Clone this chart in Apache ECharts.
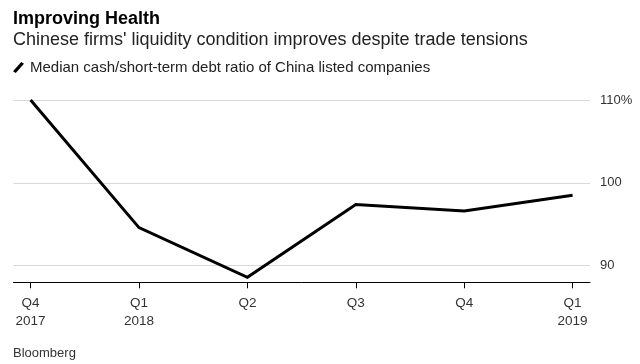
<!DOCTYPE html>
<html>
<head>
<meta charset="utf-8">
<script src="https://cdn.jsdelivr.net/npm/echarts@6/dist/echarts.min.js"></script>
<style>
html,body{margin:0;padding:0;background:#fff;}
#chart{width:640px;height:364px;}
</style>
</head>
<body>
<div id="chart"></div>
<script>
var titleText = 'Improving Health';
var subtitleText = "Chinese firms' liquidity condition improves despite trade tensions";
var seriesName = 'Median cash/short-term debt ratio of China listed companies';
var sourceText = 'Bloomberg';
var categories = ['Q4\n2017', 'Q1\n2018', 'Q2', 'Q3', 'Q4', 'Q1\n2019'];
var values = [110, 94.6, 88.6, 97.4, 96.6, 98.5];
var yTicks = [90, 100, 110];
var yMin = 88, yMax = 110;

var font = '"Liberation Sans", Arial, sans-serif';
var T = 'rgba(0,0,0,0)';
var chart = echarts.init(document.getElementById('chart'), null, {renderer: 'canvas'});
chart.setOption({
  animation: false,
  backgroundColor: '#fff',
  textStyle: {fontFamily: font},
  title: [
    {text: titleText, left: 13, top: 10, padding: 0,
     textStyle: {fontFamily: font, fontSize: 18, fontWeight: 'bold', color: '#000'}},
    {text: subtitleText, left: 13, top: 31, padding: 0,
     textStyle: {fontFamily: font, fontSize: 18, fontWeight: 'normal', color: '#222'}},
    {text: sourceText, left: 13, top: 347, padding: 0,
     textStyle: {fontFamily: font, fontSize: 13, fontWeight: 'normal', color: '#333'}}
  ],
  legend: {
    left: 13, top: 60, padding: 0, itemGap: 10,
    itemWidth: 11, itemHeight: 11,
    data: [{name: seriesName, icon: 'path://M9,0 L12,2 L3,12 L0,10 Z'}],
    textStyle: {fontFamily: font, fontSize: 15, color: '#222', padding: [0,0,0,1]},
    itemStyle: {color: '#000'}
  },
  grid: [
    {left: 30.6, right: 67.4, top: 100, bottom: 81.7},
    {left: 13.5, right: 50, top: 100, bottom: 81.7}
  ],
  xAxis: [
    {type: 'category', gridIndex: 0, data: categories, boundaryGap: false,
     axisLine: {show: false},
     axisTick: {show: true, length: 6, lineStyle: {color: '#000', width: 1}},
     axisLabel: {fontFamily: font, fontSize: 13.5, color: '#333', lineHeight: 18, margin: 12, interval: 0},
     splitLine: {show: false}},
    {type: 'value', gridIndex: 1, min: 0, max: 1,
     axisLine: {show: true, lineStyle: {color: '#000', width: 1}},
     axisTick: {show: false}, axisLabel: {show: false}, splitLine: {show: false}}
  ],
  yAxis: [
    {type: 'value', gridIndex: 0, min: yMin, max: yMax, show: false, splitLine: {show: false}},
    {type: 'value', gridIndex: 1, min: yMin, max: yMax, interval: 2, position: 'right',
     axisLine: {show: false}, axisTick: {show: false},
     axisLabel: {fontFamily: font, fontSize: 13, color: '#333', margin: 10,
       formatter: function (v) {
         var i = yTicks.indexOf(v);
         if (i < 0) return '';
         return i === yTicks.length - 1 ? v + '%' : String(v);
       }},
     splitLine: {show: true, lineStyle: {color: [T, '#d9d9d9', T, T, T], width: 1}}}
  ],
  series: [
    {name: seriesName, type: 'line', xAxisIndex: 0, yAxisIndex: 0, data: values,
     showSymbol: false, symbol: 'none',
     lineStyle: {color: '#000', width: 3, join: 'miter'},
     itemStyle: {color: '#000'}}
  ]
});
</script>
</body>
</html>
